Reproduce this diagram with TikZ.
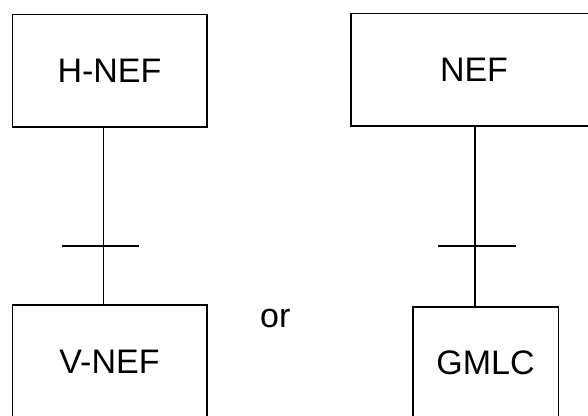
\documentclass[tikz,border=0pt]{standalone}
\usepackage{fontspec}
\setmainfont{Liberation Sans}
\begin{document}
\begin{tikzpicture}[x=1pt,y=-1pt,
  box/.style={draw, line width=1.6pt, inner sep=0pt, font=\fontsize{34}{40}\selectfont,
    text height=24.4pt, text depth=0pt},
  link/.style={line width=1.6pt}]
\useasboundingbox (0,0) rectangle (588,415);
\clip (0,0) rectangle (588,415);
\node[box, minimum width=194.4pt, minimum height=112.4pt] (hnef) at (109.5,70.5) {H-NEF};
\node[box, minimum width=194.4pt, minimum height=112pt] (vnef) at (109.5,361) {V-NEF};
\node[box, minimum width=246pt, minimum height=112.4pt] (nef) at (474,69.5) {NEF};
\node[box, minimum width=145.6pt, minimum height=112pt] (gmlc) at (485.5,362.7) {GMLC};
\node[anchor=base, inner sep=0pt, font=\fontsize{34}{40}\selectfont] (or) at (275.3,327.3) {or};
\coordinate (t1) at (103.3,245.7);
\coordinate (t2) at (475,245.7);
\draw[link] (hnef.south -| t1) -- (vnef.north -| t1);
\draw[link] ([xshift=-41.6pt]t1) -- ([xshift=36pt]t1);
\draw[link] (nef.south -| t2) -- (gmlc.north -| t2);
\draw[link] ([xshift=-36.7pt]t2) -- ([xshift=41pt]t2);
\end{tikzpicture}
\end{document}
